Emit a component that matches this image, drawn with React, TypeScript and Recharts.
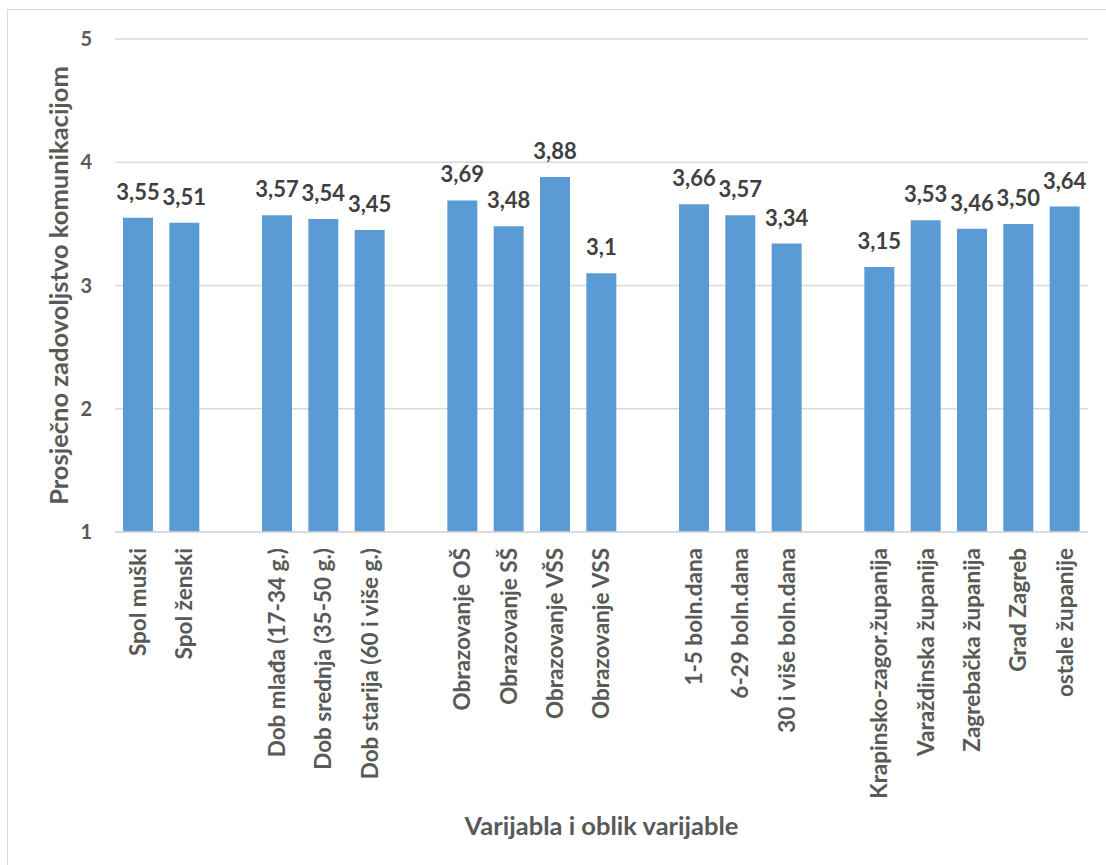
import { BarChart, Bar, XAxis, YAxis, CartesianGrid, LabelList, Label } from "recharts";

const categories = [
  "Spol muški",
  "Spol ženski",
  "",
  "Dob mlađa (17-34 g.)",
  "Dob srednja (35-50 g.)",
  "Dob starija (60 i više g.)",
  "",
  "Obrazovanje OŠ",
  "Obrazovanje SŠ",
  "Obrazovanje VŠS",
  "Obrazovanje VSS",
  "",
  "1-5 boln.dana",
  "6-29 boln.dana",
  "30 i više boln.dana",
  "",
  "Krapinsko-zagor.županija",
  "Varaždinska županija",
  "Zagrebačka županija",
  "Grad Zagreb",
  "ostale županije",
];

const values = [
  3.55, 3.51, null, 3.57, 3.54, 3.45, null, 3.69, 3.48, 3.88, 3.1, null, 3.66, 3.57, 3.34, null, 3.15, 3.53,
  3.46, 3.5, 3.64,
];

// labels as printed on the chart (mixed decimals)
const valueLabels = [
  "3,55", "3,51", "", "3,57", "3,54", "3,45", "", "3,69", "3,48", "3,88", "3,1", "", "3,66", "3,57", "3,34", "",
  "3,15", "3,53", "3,46", "3,50", "3,64",
];

const yTicks = [1, 2, 3, 4, 5];

const yTitle = "Prosječno zadovoljstvo komunikacijom";
const xTitle = "Varijabla i oblik varijable";

const data = categories.map((c, i) => ({ id: i, category: c, value: values[i], label: valueLabels[i] }));

const FONT = "Lato, 'Open Sans', sans-serif";
const AXIS_GREY = "#595959";
const GRID = "#d9d9d9";

function CategoryTick({ x, y, payload }: any) {
  const text = categories[payload.value];
  if (!text) return null;
  return (
    <text
      x={x}
      y={y}
      transform={`rotate(-90 ${x} ${y})`}
      textAnchor="end"
      dy="0.35em"
      fill={AXIS_GREY}
      fontSize={22.5}
      fontWeight="bold"
      fontFamily={FONT}
    >
      {text}
    </text>
  );
}

export default function App() {
  return (
    <div style={{ position: "absolute", left: 0, top: 0, width: 1106, height: 865, overflow: "hidden", background: "#fff" }}>
      <div
        style={{
          position: "absolute",
          left: 7,
          top: 9,
          width: 1120,
          height: 880,
          border: "1.5px solid #d9d9d9",
        }}
      />
      <div style={{ position: "absolute", left: 0, top: 0 }}>
        <BarChart width={1106} height={865} data={data} margin={{ top: 39, right: 18, bottom: 0, left: 0 }} barSize={30}>
          <CartesianGrid vertical={false} stroke={GRID} strokeWidth={1.5} />
          <XAxis
            dataKey="id"
            interval={0}
            height={333}
            axisLine={{ stroke: GRID, strokeWidth: 1.5 }}
            tickLine={false}
            tickSize={0}
            tickMargin={16}
            tick={<CategoryTick />}
          >
            <Label
              content={({ viewBox }: any) => (
                <text
                  x={viewBox.x + viewBox.width / 2}
                  y={viewBox.y + 293}
                  textAnchor="middle"
                  dominantBaseline="central"
                  fill={AXIS_GREY}
                  fontSize={25.5}
                  fontWeight="bold"
                  fontFamily={FONT}
                >
                  {xTitle}
                </text>
              )}
            />
          </XAxis>
          <YAxis
            type="number"
            domain={[1, 5]}
            ticks={yTicks}
            width={115}
            axisLine={false}
            tickLine={false}
            tickSize={0}
            tickMargin={23}
            tick={{ fill: AXIS_GREY, fontSize: 20, fontWeight: "bold", fontFamily: FONT }}
          >
            <Label
              content={({ viewBox }: any) => {
                const cx = viewBox.x + 58;
                const cy = viewBox.y + viewBox.height / 2;
                return (
                  <text
                    x={cx}
                    y={cy}
                    transform={`rotate(-90 ${cx} ${cy})`}
                    textAnchor="middle"
                    dominantBaseline="central"
                    fill={AXIS_GREY}
                    fontSize={25.5}
                    fontWeight="bold"
                    fontFamily={FONT}
                  >
                    {yTitle}
                  </text>
                );
              }}
            />
          </YAxis>
          <Bar dataKey="value" fill="#5b9bd5" isAnimationActive={false}>
            <LabelList
              dataKey="label"
              position="top"
              offset={18}
              fill="#404040"
              fontSize={22}
              fontWeight="bold"
              fontFamily={FONT}
            />
          </Bar>
        </BarChart>
      </div>
    </div>
  );
}
